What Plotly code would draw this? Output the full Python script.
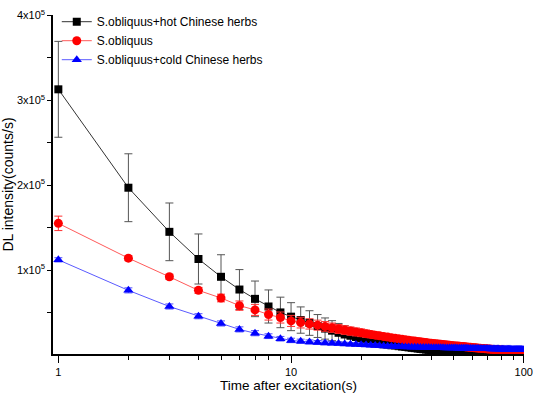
import plotly.graph_objects as go

# Time after excitation (s)
time_s = list(range(1, 101))

# DL intensity values in thousands of counts/s
hot_k = [313, 197, 145, 113, 92, 77, 66, 57, 50, 45,
         41, 37.5, 34, 31, 28.5, 26, 24, 22.5, 21, 19.5,
         18.3, 17.2, 16.2, 15.2, 14.2, 13.3, 12.4, 11.6, 10.8, 10.1,
         9.5, 8.9, 8.4, 7.9, 7.4, 7, 6.6, 6.2, 5.9, 5.6,
         5.3, 5.1, 4.9, 4.7, 4.5, 4.3, 4.1, 3.9, 3.8, 3.7,
         3.6, 3.5, 3.4, 3.3, 3.2, 3.15, 3.1, 3.05, 3, 2.95,
         2.9, 2.85, 2.8, 2.75, 2.7, 2.65, 2.6, 2.55, 2.5, 2.45,
         2.4, 2.4, 2.35, 2.35, 2.3, 2.3, 2.25, 2.25, 2.2, 2.2,
         2.15, 2.15, 2.1, 2.1, 2.1, 2.05, 2.05, 2, 2, 2,
         1.95, 1.95, 1.95, 1.9, 1.9, 1.9, 1.85, 1.85, 1.85, 1.8]
hot_err_k = [56.5, 40, 34, 29.5, 26, 23.5, 21, 19.5, 18, 16.5,
             15.5, 14.5, 13.5, 12.5, 11.8, 11, 10.3, 9.6, 9, 8.4,
             7.9, 7.4, 6.9, 6.5, 6.1, 5.7, 5.4, 5.1, 4.8, 4.5,
             4.2, 4, 3.8, 3.6, 3.4, 3.2, 3, 2.9, 2.8, 2.7,
             2.6, 2.5, 2.45, 2.4, 2.35, 2.3, 2.25, 2.2, 2.15, 2.1,
             2.05, 2, 1.95, 1.9, 1.85, 1.8, 1.78, 1.76, 1.74, 1.72,
             1.7, 1.68, 1.66, 1.64, 1.62, 1.6, 1.58, 1.56, 1.54, 1.52,
             1.5, 1.48, 1.46, 1.44, 1.42, 1.4, 1.39, 1.38, 1.37, 1.36,
             1.35, 1.34, 1.33, 1.32, 1.31, 1.3, 1.29, 1.28, 1.27, 1.26,
             1.25, 1.24, 1.23, 1.22, 1.21, 1.2, 1.2, 1.2, 1.2, 1.2]

plain_k = [155, 114, 92, 76, 67, 58, 53, 47.5, 44, 40,
           38, 36.5, 35, 33.5, 32, 30.5, 29.2, 28, 27, 26,
           25, 24.1, 23.2, 22.4, 21.6, 20.9, 20.2, 19.5, 18.9, 18.3,
           17.7, 17.2, 16.7, 16.2, 15.7, 15.3, 14.9, 14.5, 14.1, 13.7,
           13.4, 13.1, 12.8, 12.5, 12.2, 11.9, 11.6, 11.3, 11.1, 10.8,
           10.5, 10.3, 10.1, 9.9, 9.7, 9.5, 9.3, 9.1, 8.9, 8.7,
           8.5, 8.3, 8.1, 7.9, 7.8, 7.6, 7.4, 7.3, 7.1, 7,
           6.8, 6.7, 6.5, 6.4, 6.3, 6.1, 6, 5.9, 5.7, 5.6,
           5.5, 5.4, 5.3, 5.2, 5.1, 5, 4.9, 4.8, 4.7, 4.6,
           4.5, 4.45, 4.4, 4.35, 4.3, 4.25, 4.2, 4.15, 4.1, 4.05]
plain_err_k = [8.5, 3, 3, 3.5, 4.5, 5.5, 6.5, 6.5, 6.5, 6.5,
               6.3, 6.1, 5.9, 5.7, 5.5, 5.3, 5.1, 4.9, 4.7, 4.5,
               4.3, 4.1, 3.9, 3.7, 3.5, 3.4, 3.3, 3.2, 3.1, 3,
               2.9, 2.8, 2.7, 2.6, 2.5, 2.45, 2.4, 2.35, 2.3, 2.25,
               2.2, 2.15, 2.1, 2.05, 2, 1.95, 1.9, 1.85, 1.8, 1.75,
               1.7, 1.68, 1.66, 1.64, 1.62, 1.6, 1.58, 1.56, 1.54, 1.52,
               1.5, 1.48, 1.46, 1.44, 1.42, 1.4, 1.38, 1.36, 1.34, 1.32,
               1.3, 1.28, 1.26, 1.24, 1.22, 1.2, 1.18, 1.16, 1.14, 1.12,
               1.1, 1.08, 1.06, 1.04, 1.02, 1, 1, 1, 1, 1,
               1, 1, 1, 1, 1, 1, 1, 1, 1, 1]

cold_k = [112, 76, 57, 45.5, 37, 30, 25.5, 22, 19, 17,
          16, 15.2, 14.6, 14.1, 13.7, 13.3, 12.9, 12.5, 12.2, 11.9,
          11.6, 11.3, 11, 10.7, 10.4, 10.2, 10, 9.8, 9.6, 9.4,
          9.3, 9.2, 9.1, 9, 8.9, 8.8, 8.7, 8.6, 8.55, 8.5,
          8.45, 8.4, 8.35, 8.3, 8.25, 8.2, 8.15, 8.1, 8.05, 8,
          7.95, 7.9, 7.85, 7.8, 7.75, 7.7, 7.65, 7.6, 7.55, 7.5,
          7.46, 7.42, 7.38, 7.34, 7.3, 7.26, 7.22, 7.18, 7.14, 7.1,
          7.06, 7.02, 6.98, 6.94, 6.9, 6.86, 6.82, 6.78, 6.74, 6.7,
          6.67, 6.64, 6.61, 6.58, 6.55, 6.52, 6.49, 6.46, 6.43, 6.4,
          6.37, 6.34, 6.31, 6.28, 6.25, 6.22, 6.19, 6.16, 6.13, 6.1]
cold_err_k = [2.5, 3, 3, 3, 3, 3, 3, 2.8, 2.7, 2.6,
              2.5, 2.4, 2.3, 2.2, 2.1, 2, 1.95, 1.9, 1.85, 1.8,
              1.75, 1.7, 1.65, 1.6, 1.55, 1.5, 1.48, 1.46, 1.44, 1.42,
              1.4, 1.38, 1.36, 1.34, 1.32, 1.3, 1.28, 1.26, 1.24, 1.22,
              1.2, 1.18, 1.16, 1.14, 1.12, 1.1, 1.1, 1.1, 1.1, 1.1,
              1.1, 1.1, 1.1, 1.1, 1.1, 1.1, 1.1, 1.1, 1.1, 1.1,
              1.1, 1.1, 1.1, 1.1, 1.1, 1.1, 1.1, 1.1, 1.1, 1.1,
              1.1, 1.1, 1.1, 1.1, 1.1, 1.1, 1.1, 1.1, 1.1, 1.1,
              1.1, 1.1, 1.1, 1.1, 1.1, 1.1, 1.1, 1.1, 1.1, 1.1,
              1.1, 1.1, 1.1, 1.1, 1.1, 1.1, 1.1, 1.1, 1.1, 1.1]

series_names = ["S.obliquus+hot Chinese herbs", "S.obliquus", "S.obliquus+cold Chinese herbs"]

y_tickvals = [100000, 200000, 300000, 400000]
y_ticktext = ["1x10<sup>5</sup>", "2x10<sup>5</sup>", "3x10<sup>5</sup>", "4x10<sup>5</sup>"]
y_minor_vals = [50000, 150000, 250000, 350000]
x_tickvals = [1, 10, 100]
x_ticktext = ["1", "10", "100"]
x_minor_vals = [2, 3, 4, 5, 6, 7, 8, 9, 20, 30, 40, 50, 60, 70, 80, 90]

def to_counts(vals):
    return [v * 1000 for v in vals]

styles = [
    dict(line="#333333", marker="#000000", err="#555555", symbol="square", size=8),
    dict(line="#ff5a5a", marker="#ff0000", err="#ff3030", symbol="circle", size=9),
    dict(line="#5a5aff", marker="#0000ff", err="#5555ff", symbol="triangle-up", size=9),
]
values = [hot_k, plain_k, cold_k]
errors = [hot_err_k, plain_err_k, cold_err_k]

fig = go.Figure()
for name, vals, errs, st in zip(series_names, values, errors, styles):
    fig.add_trace(go.Scatter(
        x=time_s, y=to_counts(vals), name=name, mode="lines+markers",
        line=dict(color=st["line"], width=1),
        marker=dict(color=st["marker"], symbol=st["symbol"], size=st["size"], line=dict(width=0)),
        error_y=dict(type="data", array=to_counts(errs), visible=True,
                     color=st["err"], thickness=1, width=4),
    ))

font_family = "Liberation Sans, Arial, sans-serif"
fig.update_layout(
    width=533, height=395,
    margin=dict(l=53, r=9, t=7, b=41),
    paper_bgcolor="white", plot_bgcolor="white",
    font=dict(family=font_family, size=11, color="black"),
    showlegend=True,
    legend=dict(x=0.008, y=1.023, xanchor="left", yanchor="top",
                font=dict(size=12, family=font_family),
                bgcolor="rgba(0,0,0,0)", borderwidth=0,
                tracegroupgap=0, itemwidth=30),
    xaxis=dict(
        type="log", range=[-0.023, 2.001], automargin=False,
        tickvals=x_tickvals, ticktext=x_ticktext,
        ticks="outside", ticklen=7, tickwidth=1.2, tickcolor="black",
        showline=True, linecolor="black", linewidth=1.5,
        showgrid=False, zeroline=False,
        minor=dict(tickvals=x_minor_vals, ticks="outside", ticklen=4,
                   tickwidth=1.2, tickcolor="black", showgrid=False),
        title=dict(text="Time after excitation(s)", font=dict(size=13.5), standoff=2),
        tickfont=dict(size=11),
    ),
    yaxis=dict(
        range=[1000, 400600], automargin=False,
        tickvals=y_tickvals, ticktext=y_ticktext,
        ticks="outside", ticklen=4, tickwidth=1.2, tickcolor="black",
        showline=True, linecolor="black", linewidth=1.5,
        showgrid=False, zeroline=False,
        minor=dict(tickvals=y_minor_vals, ticks="outside", ticklen=4,
                   tickwidth=1.2, tickcolor="black", showgrid=False),
        title=dict(text="DL intensity(counts/s)", font=dict(size=14), standoff=2),
        tickfont=dict(size=11),
    ),
)

fig.write_html("out.html", post_script="document.body.style.margin='0px';",
               config={"displayModeBar": False})
